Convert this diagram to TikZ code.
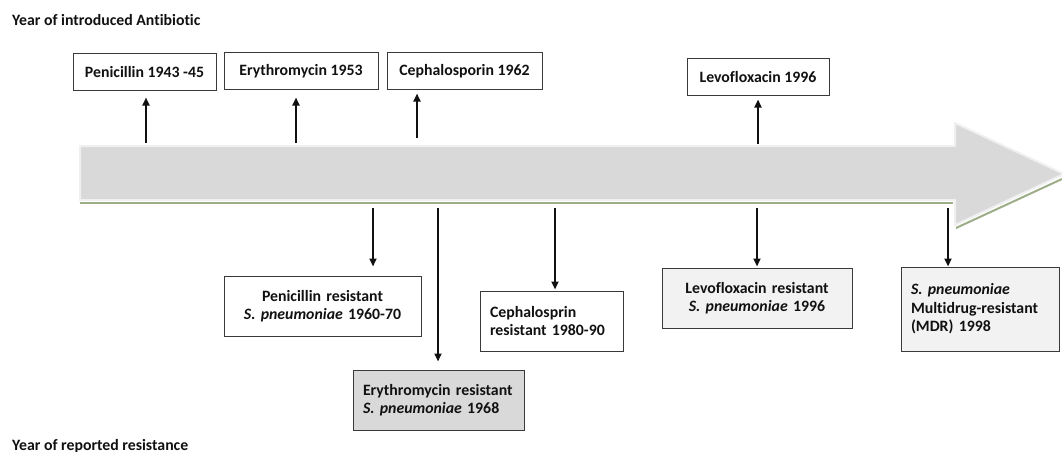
\documentclass[tikz,border=0pt]{standalone}
\usepackage{fontspec}
\setmainfont{Carlito}[Ligatures={TeX,NoCommon}]
\usetikzlibrary{arrows.meta,calc}
\definecolor{ink}{HTML}{111111}
\definecolor{frame}{HTML}{3A3A3A}
\definecolor{band}{HTML}{D9D9D9}
\definecolor{bandedge}{HTML}{F0F0F0}
\definecolor{shade}{HTML}{9CAD87}
\definecolor{pale}{HTML}{F2F2F2}
\frenchspacing
\newcommand{\spn}{\textit{S. pneumoniae}}
\tikzset{
  yearbox/.style={draw=frame,fill=#1,line width=1pt,text=ink,inner xsep=10pt,inner ysep=2pt,
                  font=\fontsize{15.8}{18.5}\selectfont\bfseries},
  yearbox/.default=white,
  heading/.style={font=\fontsize{15.8}{18.5}\selectfont\bfseries,text=ink,anchor=base west,inner sep=0pt},
  tick/.style={-{Triangle[length=8pt,width=7pt]},line width=2pt,color=ink},
  timeline/.style={fill=band,draw=bandedge,line width=2pt,line join=miter},
  shadow line/.style={draw=shade,line width=2pt},
}
\begin{document}
\begin{tikzpicture}[x=1pt,y=-1pt]
  \useasboundingbox (0,0) rectangle (1062,452);

  % the time axis
  \draw[timeline] (80,146) -- (955,146) -- (955,123) -- (1064,174) -- (955,225) -- (955,200) -- (80,200) -- cycle;
  \draw[shadow line] (80,203) -- (953,203);
  \draw[shadow line] (956,228) -- (1062,179);

  \node[heading] (intro) at (12,26) {Year of introduced Antibiotic};
  \node[heading] (resist) at (12,450) {Year of reported resistance};

  % introduced antibiotics, above the axis
  \foreach \i/\x/\y/\w/\ux/\ub/\g/\txt in {
    1/144.5/72/143/146/143/7/{Penicillin 1943 -45},
    2/301/71/154/296/143/8/{Erythromycin 1953},
    3/464.5/71/155/417/138/4/{Cephalosporin 1962},
    4/758/77/142/758/144/4/{Levofloxacin 1996}%
  }{
    \node[yearbox,minimum width=\w,minimum height=36] (a\i) at (\x,\y) {\txt};
    \coordinate (u\i) at (\ux,\ub);
    \draw[tick,shorten >=\g] (u\i) -- (u\i |- a\i.south);
  }

  % reported resistance, below the axis
  \foreach \i/\x/\y/\w/\h/\al/\col/\dx/\g/\txt in {
    1/322.5/306/197/60/center/white/373/9/{Penicillin resistant\\\spn{} 1960-70},
    2/438.5/400/171/60/left/band/438/8/{Erythromycin resistant\\\spn{} 1968},
    3/551.5/321/143/60/left/white/555/1/{Cephalosprin\\resistant 1980-90},
    4/757/298/190/60/center/pale/757/1/{Levofloxacin resistant\\\spn{} 1996},
    5/980/309/158/84/left/pale/948/0/{\spn\\Multidrug-resistant\\(MDR) 1998\\[-8pt]}%
  }{
    \node[yearbox=\col,minimum width=\w,minimum height=\h,text width=\w-20,align=\al,
          execute at begin node={\hyphenpenalty=10000}] (b\i) at (\x,\y) {\txt};
    \coordinate (d\i) at (\dx,208);
    \draw[tick,shorten >=\g] (d\i) -- (d\i |- b\i.north);
  }
\end{tikzpicture}
\end{document}
